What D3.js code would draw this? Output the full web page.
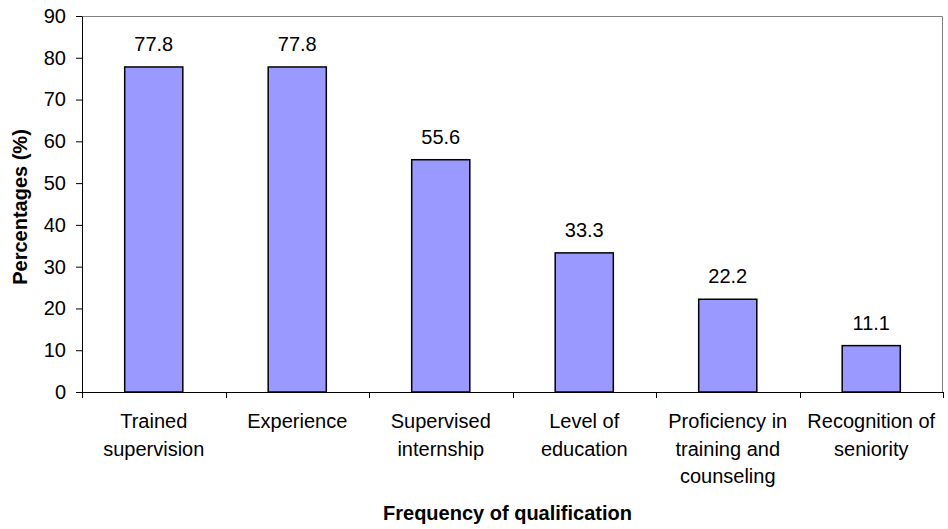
<!DOCTYPE html>
<html>
<head>
<meta charset="utf-8">
<script src="https://cdn.jsdelivr.net/npm/d3@7"></script>
<style>
  body { margin: 0; background: #fff; }
  text { font-family: "Liberation Sans", Arial, sans-serif; fill: #000; }
</style>
</head>
<body>
<div id="chart"></div>
<script>
// data
const categories = ["Trained\nsupervision", "Experience", "Supervised\ninternship", "Level of\neducation", "Proficiency in\ntraining and\ncounseling", "Recognition of\nseniority"];
const percentages = [77.8, 77.8, 55.6, 33.3, 22.2, 11.1];
const yTicks = [0, 10, 20, 30, 40, 50, 60, 70, 80, 90];

const dim = {
    width: 948,
    height: 529,
    margin: { top: 16, right: 5, bottom: 137, left: 82 },
};
dim.w = dim.width - dim.margin.left - dim.margin.right;
dim.h = dim.height - dim.margin.top - dim.margin.bottom;

const svg = d3.select("#chart")
    .append("svg")
    .attr("width", dim.width)
    .attr("height", dim.height);

const g = svg.append("g")
    .attr("transform", `translate(${dim.margin.left},${dim.margin.top})`);

// scales
const x = d3.scaleBand()
    .domain(categories)
    .range([0, dim.w])
    .paddingInner(0.595)
    .paddingOuter(0.2975);

const y = d3.scaleLinear()
    .domain([0, 90])
    .range([dim.h, 0]);

// plot frame (top and right in gray)
g.append("rect")
    .attr("x", 0).attr("y", 0)
    .attr("width", dim.w).attr("height", dim.h)
    .attr("fill", "#fff");
g.append("path")
    .attr("d", `M0,0.5H${dim.w - 0.5}V${dim.h}`)
    .attr("fill", "none")
    .attr("stroke", "#808080")
    .attr("stroke-width", 1);

// y axis
const yAxis = g.append("g")
    .call(d3.axisLeft(y).tickValues(yTicks).tickSize(6).tickPadding(10).tickSizeOuter(0));
yAxis.select(".domain").attr("stroke", "#000");
yAxis.selectAll(".tick line").attr("stroke", "#000");
yAxis.selectAll(".tick text")
    .style("font-size", "20px")
    .attr("font-family", null);

// bars
g.selectAll("rect.bar")
    .data(percentages)
    .join("rect")
    .attr("class", "bar")
    .attr("x", (d, i) => x(categories[i]))
    .attr("y", d => y(d))
    .attr("width", x.bandwidth())
    .attr("height", d => y(0) - y(d))
    .attr("fill", "#9999FF")
    .attr("stroke", "#000")
    .attr("stroke-width", 1.5);

// value labels
g.selectAll("text.val")
    .data(percentages)
    .join("text")
    .attr("class", "val")
    .attr("x", (d, i) => x(categories[i]) + x.bandwidth() / 2)
    .attr("y", d => y(d) - 16)
    .attr("text-anchor", "middle")
    .style("font-size", "20px")
    .text(d => d.toFixed(1));

// x axis line and ticks at band edges
g.append("line")
    .attr("x1", 0).attr("x2", dim.w)
    .attr("y1", dim.h + 0.5).attr("y2", dim.h + 0.5)
    .attr("stroke", "#000");

const edges = d3.range(categories.length + 1);
g.selectAll("line.xtick")
    .data(edges)
    .join("line")
    .attr("class", "xtick")
    .attr("x1", i => Math.round(i * x.step()) + 0.5)
    .attr("x2", i => Math.round(i * x.step()) + 0.5)
    .attr("y1", dim.h)
    .attr("y2", dim.h + 6)
    .attr("stroke", "#000");

// category labels
const catLabels = g.selectAll("text.cat")
    .data(categories)
    .join("text")
    .attr("class", "cat")
    .attr("text-anchor", "middle")
    .attr("transform", d => `translate(${x(d) + x.bandwidth() / 2},${dim.h + 36})`)
    .style("font-size", "20px");

catLabels.selectAll("tspan")
    .data(d => d.split("\n"))
    .join("tspan")
    .attr("x", 0)
    .attr("y", (d, i) => i * 27.5)
    .text(d => d);

// axis titles
g.append("text")
    .attr("x", dim.w / 2 - 5)
    .attr("y", dim.h + 128)
    .attr("text-anchor", "middle")
    .style("font-size", "20px")
    .style("font-weight", "bold")
    .text("Frequency of qualification");

g.append("text")
    .attr("transform", `translate(${27 - dim.margin.left},${dim.h / 2 + 3}) rotate(-90)`)
    .attr("text-anchor", "middle")
    .style("font-size", "20px")
    .style("font-weight", "bold")
    .text("Percentages (%)");
</script>
</body>
</html>
